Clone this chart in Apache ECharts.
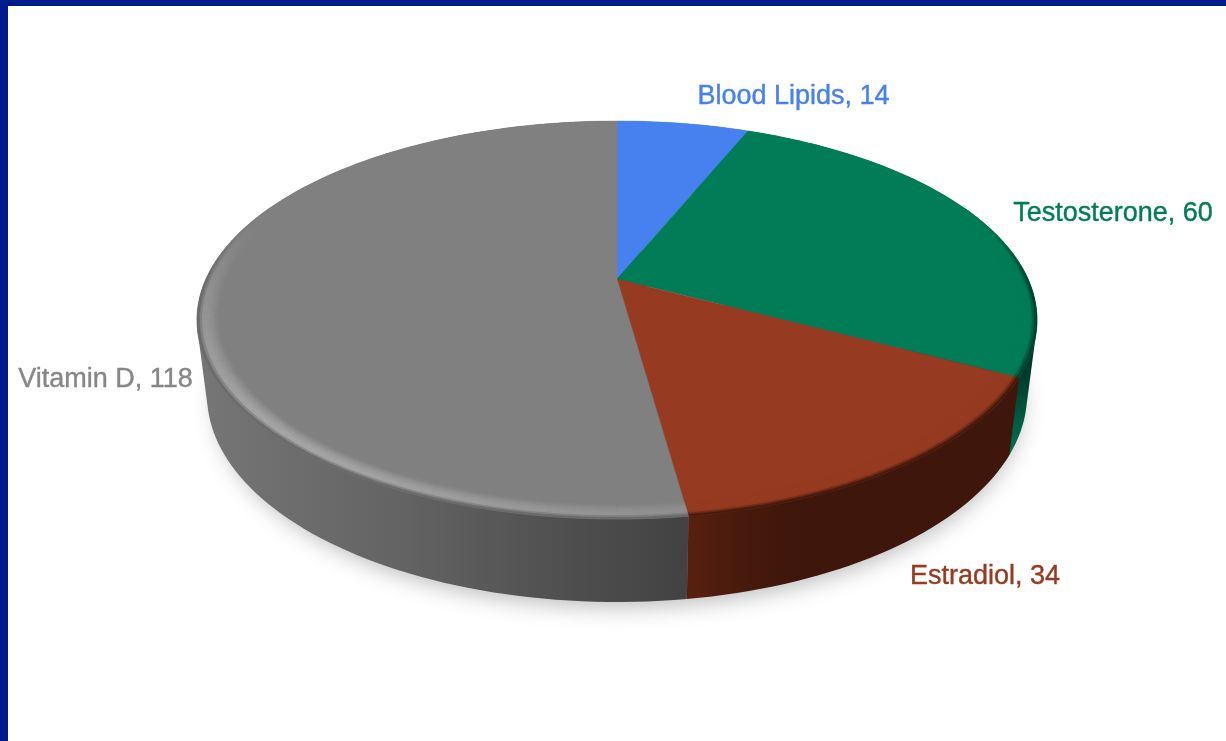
<!DOCTYPE html>
<html>
<head>
<meta charset="utf-8">
<style>html,body{margin:0;padding:0;background:#fff}#c{width:1226px;height:741px}</style>
<script src="https://cdn.jsdelivr.net/npm/echarts@6/dist/echarts.min.js"></script>
</head>
<body>
<div id="c"></div>
<script>
// --- data ---
var categories = ['Blood Lipids', 'Testosterone', 'Estradiol', 'Vitamin D'];
var values = [14, 60, 34, 118];

// --- styling / layout ---
var faceColors = ['#4780ef', '#007d56', '#963a21', '#808080'];
var rimDark = ['#4780ef', '#003d2c', '#3e170b', '#666666'];
var labelCenters = [[793.5, 97], [1113, 214], [985, 577], [105.5, 380]];
var TOP = {cx: 617, y0: 279, a: 190.6, b: 411, k: 0.206};
var BOTTOM = {cx: 617, y0: 352.4, a: 198.2, b: 401.2, k: 0.206};
var RAD = Math.PI / 180;
var total = values.reduce(function (s, v) { return s + v; }, 0);

function sideFill(i) {
  if (i === 3) return {type: 'linear', x: 197, y: 0, x2: 690, y2: 0, global: true, colorStops: [
    {offset: 0, color: '#767676'}, {offset: 0.4, color: '#646464'},
    {offset: 0.8, color: '#4c4c4c'}, {offset: 1, color: '#424242'}]};
  if (i === 2) return {type: 'linear', x: 685, y: 0, x2: 800, y2: 0, global: true, colorStops: [
    {offset: 0, color: '#5a2010'}, {offset: 0.5, color: '#461a0c'}, {offset: 1, color: '#3e160b'}]};
  if (i === 1) return {type: 'linear', x: 0, y: 375, x2: 0, y2: 450, global: true, colorStops: [
    {offset: 0, color: '#003a2a'}, {offset: 1, color: '#00704e'}]};
  return faceColors[i];
}
function project(m, deg, r) {
  var t = deg * RAD, X = r * Math.sin(t), Y = -r * Math.cos(t), d = 1 - m.k * Y;
  return [m.cx + m.b * X / d, m.y0 + m.a * Y / d];
}
function range(i) {
  var s = 0;
  for (var j = 0; j < i; j++) s += values[j];
  return [s / total * 360, (s + values[i]) / total * 360];
}
function arc(m, a0, a1, r) {
  var out = [], n = Math.max(2, Math.ceil((a1 - a0) / 1.5));
  for (var i = 0; i <= n; i++) out.push(project(m, a0 + (a1 - a0) * i / n, r));
  return out;
}
// monotone-chain convex hull, so that the wall has straight silhouette edges
function hull(points) {
  var p = points.slice().sort(function (a, b) { return a[0] - b[0] || a[1] - b[1]; });
  function cross(o, a, b) { return (a[0] - o[0]) * (b[1] - o[1]) - (a[1] - o[1]) * (b[0] - o[0]); }
  var lo = [], up = [], i;
  for (i = 0; i < p.length; i++) {
    while (lo.length > 1 && cross(lo[lo.length - 2], lo[lo.length - 1], p[i]) <= 0) lo.pop();
    lo.push(p[i]);
  }
  for (i = p.length - 1; i >= 0; i--) {
    while (up.length > 1 && cross(up[up.length - 2], up[up.length - 1], p[i]) <= 0) up.pop();
    up.push(p[i]);
  }
  lo.pop(); up.pop();
  return lo.concat(up);
}
function hex(c) { return [parseInt(c.substr(1, 2), 16), parseInt(c.substr(3, 2), 16), parseInt(c.substr(5, 2), 16)]; }
function mix(a, b, f) { return a.map(function (v, i) { return v + (b[i] - v) * f; }); }
function css(c) { return 'rgb(' + c.map(Math.round).join(',') + ')'; }
function smooth(e0, e1, x) { var t = Math.min(1, Math.max(0, (x - e0) / (e1 - e0))); return t * t * (3 - 2 * t); }

function poly(api, pts, style, z2) {
  return {type: 'polygon', z2: z2 || 0, shape: {points: pts.map(function (p) { return api.coord(p); })}, style: style};
}
function renderSide(params, api) {
  var i = api.value(0), rg = range(i), kids = [];
  if (i === 0) {
    // soft cast shadow: only the lower part of the disc, so nothing shows above the top rim
    kids.push(poly(api, hull(arc(BOTTOM, 75, 285, 0.985)), {
      fill: '#777', shadowBlur: 22, shadowOffsetY: 10, shadowOffsetX: 2, shadowColor: 'rgba(0,0,0,0.26)'}));
  }
  var shape = hull(arc(TOP, rg[0], rg[1], 1).concat(arc(BOTTOM, rg[0], rg[1], 1)));
  kids.push(poly(api, shape, {fill: sideFill(i)}, 1));
  return {type: 'group', children: kids};
}
function renderFace(params, api) {
  var i = api.value(0), rg = range(i), kids = [];
  var center = [TOP.cx, TOP.y0];
  kids.push(poly(api, [center].concat(arc(TOP, rg[0], rg[1], 1)), {fill: faceColors[i], stroke: faceColors[i], lineWidth: 0.4}));
  if (i !== 0) {
    var face = hex(faceColors[i]), dark = hex(rimDark[i]), white = [235, 235, 235];
    var rings = 9, width = 0.05, step = 2;
    for (var a = rg[0]; a < rg[1] - 1e-6; a += step) {
      var a1 = Math.min(a + step, rg[1]), mid = (a + a1) / 2;
      var Y = -Math.cos(mid * RAD), w = smooth(-0.4, 0.1, Y);
      if (w <= 0) continue;
      var hl = i === 3 ? 0.08 + 0.3 * Math.exp(-Math.pow((mid - 222) / 42, 2)) : 0;
      for (var q = 0; q < rings; q++) {
        var u = (q + 0.5) / rings;
        var r0 = 1 - width * (1 - q / rings), r1 = 1 - width * (1 - (q + 1) / rings);
        var c = mix(face, white, w * hl * Math.sin(Math.min(u / 0.8, 1) * Math.PI / 2));
        c = mix(c, dark, w * smooth(0.68, 1, u));
        var col = css(c);
        kids.push(poly(api, arc(TOP, a, a1, r1).concat(arc(TOP, a, a1, r0).reverse()),
          {fill: col, stroke: col, lineWidth: 0.5}, 1));
      }
    }
  }
  return {type: 'group', children: kids};
}
function renderLabel(params, api) {
  var i = api.value(0), p = api.coord(labelCenters[i]);
  var col = i === 3 ? '#868686' : faceColors[i];
  return {type: 'text', x: p[0], y: p[1], style: {
    text: categories[i] + ', ' + values[i], fill: col, stroke: col, lineWidth: 0.4,
    font: '27px "Liberation Sans", Arial, sans-serif', align: 'center', verticalAlign: 'middle'}};
}

var rows = values.map(function (v, i) { return [i, v]; });
var chart = echarts.init(document.getElementById('c'), null, {renderer: 'canvas'});
chart.setOption({
  animation: false,
  backgroundColor: '#fff',
  grid: {left: 0, right: 0, top: 0, bottom: 0},
  xAxis: {type: 'value', min: 0, max: 1226, show: false},
  yAxis: {type: 'value', min: 0, max: 741, inverse: true, show: false},
  graphic: [
    {type: 'rect', z: 100, shape: {x: 0, y: 0, width: 1226, height: 6}, style: {fill: '#001b8b'}},
    {type: 'rect', z: 100, shape: {x: 0, y: 0, width: 8, height: 741}, style: {fill: '#001b8b'}}
  ],
  series: [
    {type: 'custom', z: 2, clip: false, silent: true, data: rows, renderItem: renderSide, encode: {x: 0, y: 1}},
    {type: 'custom', z: 3, clip: false, silent: true, data: rows, renderItem: renderFace, encode: {x: 0, y: 1}},
    {type: 'custom', z: 4, clip: false, silent: true, data: rows, renderItem: renderLabel, encode: {x: 0, y: 1}}
  ]
});
</script>
</body>
</html>
